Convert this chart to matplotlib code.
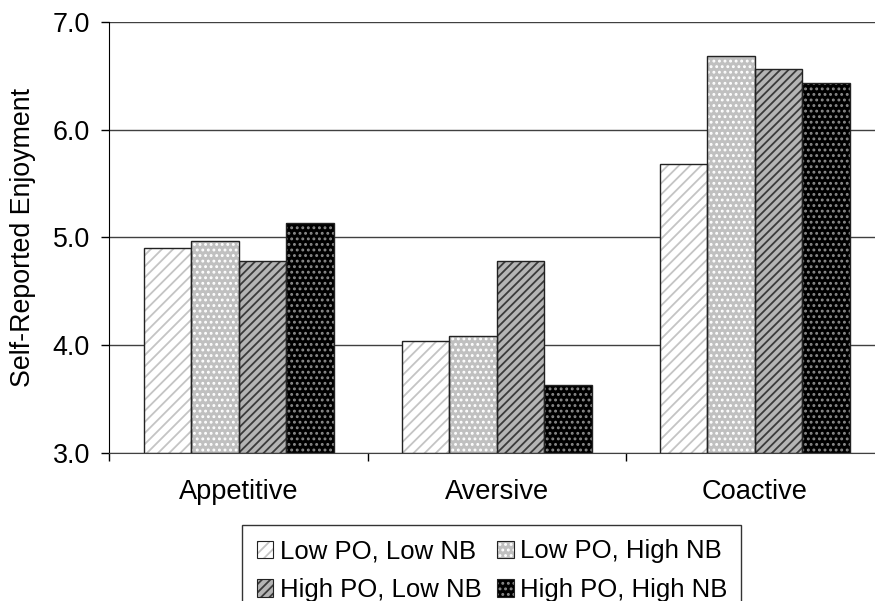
import numpy as np
import matplotlib
matplotlib.use("Agg")
import matplotlib.pyplot as plt
from matplotlib.patches import Patch

plt.rcParams['font.family'] = ['Liberation Sans', 'DejaVu Sans']
plt.rcParams['hatch.linewidth'] = 1.3

# Datos
categories = ["Appetitive", "Aversive", "Coactive"]
series = ["Low PO, Low NB", "Low PO, High NB", "High PO, Low NB", "High PO, High NB"]
low_po_low_nb = [4.90, 4.04, 5.68]
low_po_high_nb = [4.97, 4.09, 6.68]
high_po_low_nb = [4.78, 4.78, 6.56]
high_po_high_nb = [5.13, 3.63, 6.43]
values = [low_po_low_nb, low_po_high_nb, high_po_low_nb, high_po_high_nb]

# Estilos: (relleno, color de trama, trama)
styles = [
    ("white", "#c4c4c4", "///"),
    ("#c0c0c0", "white", "..."),
    ("#b4b4b4", "#3a3a3a", "////"),
    ("black", "#8a8a8a", "..."),
]

fig = plt.figure(figsize=(8.75, 6.01), dpi=100)
ax = fig.add_axes([0.1251, 0.2463, 0.8852, 0.7171])

x = np.arange(len(categories))
width = 0.184
handles = []
for i, (vals, (face, hcol, hatch)) in enumerate(zip(values, styles)):
    pos = x + (i - 1.5) * width
    ax.bar(pos, np.array(vals) - 3, width, bottom=3, color=face,
           edgecolor=hcol, hatch=hatch, linewidth=0, zorder=2)
    ax.bar(pos, np.array(vals) - 3, width, bottom=3, facecolor="none",
           edgecolor="#222222", linewidth=1.0, zorder=3)
    fill = Patch(facecolor=face, edgecolor=hcol, hatch=hatch, linewidth=0)
    outline = Patch(facecolor="none", edgecolor="#222222", linewidth=0.8)
    handles.append((fill, outline))

ax.set_xlim(-0.5, 2.5)
ax.set_ylim(3, 7)
ax.set_yticks([3, 4, 5, 6, 7])
ax.set_yticklabels(["3.0", "4.0", "5.0", "6.0", "7.0"])
ax.set_xticks(x)
ax.set_xticklabels(categories)
ax.set_xticks([-0.5, 0.5, 1.5, 2.5], minor=True)
ax.tick_params(axis="x", which="major", length=0, pad=19, labelsize=19.6)
ax.tick_params(axis="x", which="minor", length=6, width=1, direction="out")
ax.tick_params(axis="y", length=6, width=1, direction="out", pad=8, labelsize=19.4)

ax.grid(axis="y", color="#404040", linewidth=1.0, zorder=0)
ax.set_axisbelow(True)
for s in ["top", "right"]:
    ax.spines[s].set_visible(False)
ax.spines["left"].set_color("black")
ax.spines["bottom"].set_color("#404040")

ax.set_ylabel("Self-Reported Enjoyment", fontsize=19.3, labelpad=12)

# orden por filas como en el original
order = [0, 2, 1, 3]
leg = fig.legend([handles[k] for k in order], [series[k] for k in order],
                 loc="upper left", bbox_to_anchor=(0.277, 0.1265), ncol=2,
                 fontsize=18.5, frameon=True, fancybox=False, edgecolor="black",
                 handlelength=0.65, handleheight=0.65, handletextpad=0.25,
                 columnspacing=0.6, labelspacing=0.58, borderpad=0.55,
                 borderaxespad=0)
leg.get_frame().set_linewidth(1.0)

fig.savefig("out.png", dpi=100)
